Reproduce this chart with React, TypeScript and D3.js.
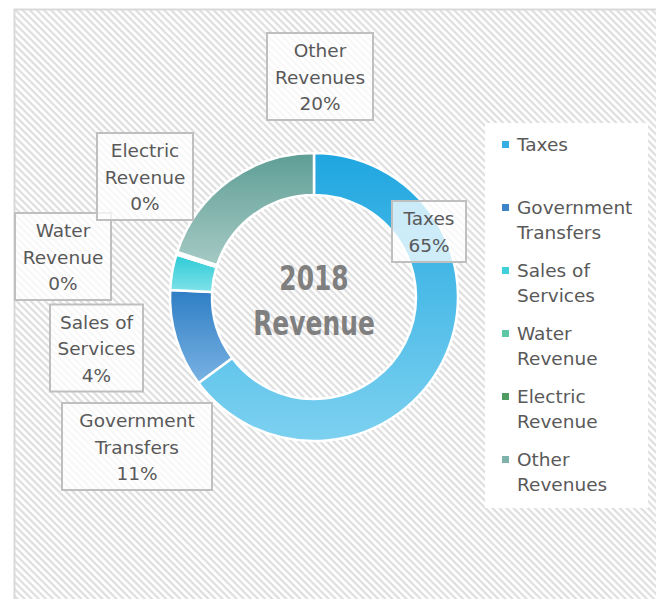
import * as d3 from 'd3';
import React, { useEffect, useRef } from "react";

// chart data
const categories = ['Taxes', 'Government Transfers', 'Sales of Services', 'Water Revenue', 'Electric Revenue', 'Other Revenues'];
const shares = [65, 11, 4, 0.2, 0.1, 20];
const legendLines = [['Taxes'], ['Government', 'Transfers'], ['Sales of', 'Services'], ['Water', 'Revenue'], ['Electric', 'Revenue'], ['Other', 'Revenues']];
const labelLines = [['Taxes'], ['Government', 'Transfers'], ['Sales of', 'Services'], ['Water', 'Revenue'], ['Electric', 'Revenue'], ['Other', 'Revenues']];
const centerTitle = ['2018', 'Revenue'];

// colours: [top, bottom] of each slice gradient, legend marker
const gradTop = ['#1FA6E0', '#2E7EC4', '#2CCBD6', '#4DBF9C', '#3F9657', '#5E9E95'];
const gradBottom = ['#7DD1F0', '#7AB2E3', '#80E2E8', '#8ED9BF', '#7CBF8C', '#A6CAC5'];
const markerColor = ['#35AEE3', '#3D84C8', '#3FD0DB', '#5CC8A6', '#4E9C62', '#80B2AC'];

// hand placed label boxes (centre x, centre y, width)
const labelLayout = [
    { cx: 429, cy: 231.5, w: 74 },
    { cx: 137, cy: 446.5, w: 150 },
    { cx: 96.5, cy: 348, w: 93 },
    { cx: 63, cy: 256.5, w: 96 },
    { cx: 145, cy: 176.5, w: 96 },
    { cx: 320, cy: 76.5, w: 106 },
];

const width = 656;
const height = 599;
const font = '"DejaVu Sans", sans-serif';

const App: React.FC = () => {
    const ref = useRef<SVGSVGElement>(null);

    useEffect(() => {
        if (!ref.current) return;
        const svg = d3.select(ref.current);
        svg.selectAll('*').remove();

        const defs = svg.append('defs');
        const pat = defs.append('pattern')
            .attr('id', 'hatch')
            .attr('patternUnits', 'userSpaceOnUse')
            .attr('width', 5)
            .attr('height', 5)
            .attr('patternTransform', 'rotate(45)');
        pat.append('rect').attr('width', 5).attr('height', 5).attr('fill', '#ffffff');
        pat.append('rect').attr('width', 5).attr('height', 2.2).attr('fill', '#DEDEDE');

        categories.forEach((c, i) => {
            const g = defs.append('linearGradient')
                .attr('id', `grad${i}`)
                .attr('x1', 0).attr('y1', 0).attr('x2', 0).attr('y2', 1);
            g.append('stop').attr('offset', '0%').attr('stop-color', gradTop[i]);
            g.append('stop').attr('offset', '100%').attr('stop-color', gradBottom[i]);
        });

        // chart area
        svg.append('rect')
            .attr('width', width).attr('height', height).attr('fill', '#ffffff');
        svg.append('rect')
            .attr('x', 14.5).attr('y', 9.5)
            .attr('width', 720).attr('height', 720)
            .attr('fill', 'url(#hatch)')
            .attr('stroke', '#D9D9D9')
            .attr('stroke-width', 2);

        const cx = 314, cy = 297;
        const outer = 144, inner = 102;
        const total = d3.sum(shares);
        const pct = d3.format('.0%');

        const pie = d3.pie<number>().value(d => d).sort(null);
        const arc = d3.arc<d3.PieArcDatum<number>>().innerRadius(inner).outerRadius(outer);

        const donut = svg.append('g').attr('transform', `translate(${cx},${cy})`);
        donut.selectAll('path')
            .data(pie(shares))
            .enter()
            .append('path')
            .attr('d', arc)
            .attr('fill', (d, i) => `url(#grad${i})`)
            .attr('stroke', '#ffffff')
            .attr('stroke-width', 2.5)
            .attr('stroke-linejoin', 'round');

        // centre title, squeezed to look like a condensed face
        svg.append('g')
            .attr('transform', `translate(${cx},0) scale(0.84,1)`)
            .selectAll('text')
            .data(centerTitle)
            .enter()
            .append('text')
            .attr('x', 0)
            .attr('y', (d, i) => 290 + i * 45)
            .attr('text-anchor', 'middle')
            .attr('font-family', '"DejaVu Sans Condensed", "DejaVu Sans", sans-serif')
            .attr('font-weight', 'bold')
            .attr('font-size', 33)
            .attr('fill', '#7F7F7F')
            .text(d => d);

        // data labels
        const labels = svg.append('g');
        labelLayout.forEach((p, i) => {
            const lines = [...labelLines[i], pct(shares[i] / total)];
            const h = lines.length === 2 ? 61 : 87;
            labels.append('rect')
                .attr('x', p.cx - p.w / 2)
                .attr('y', p.cy - h / 2)
                .attr('width', p.w)
                .attr('height', h)
                .attr('fill', '#ffffff')
                .attr('fill-opacity', 0.75)
                .attr('stroke', '#BFBFBF')
                .attr('stroke-width', 2);
            lines.forEach((t, j) => {
                labels.append('text')
                    .attr('x', p.cx)
                    .attr('y', p.cy - (lines.length - 1) / 2 * 26.5 + 7 + j * 26.5)
                    .attr('text-anchor', 'middle')
                    .attr('font-family', font)
                    .attr('font-size', 18.5)
                    .attr('fill', '#595959')
                    .text(t);
            });
        });

        // legend
        const legend = svg.append('g');
        legend.append('rect')
            .attr('x', 485).attr('y', 123)
            .attr('width', 163).attr('height', 385)
            .attr('fill', '#ffffff');
        categories.forEach((c, i) => {
            const y = 151 + i * 63;
            legend.append('rect')
                .attr('x', 502).attr('y', y - 10)
                .attr('width', 7).attr('height', 7)
                .attr('fill', markerColor[i]);
            legendLines[i].forEach((t, j) => {
                legend.append('text')
                    .attr('x', 517)
                    .attr('y', y + j * 25)
                    .attr('font-family', font)
                    .attr('font-size', 18.5)
                    .attr('fill', '#595959')
                    .text(t);
            });
        });
    }, []);

    return (
        <svg ref={ref} width={width} height={height}
            style={{ position: 'absolute', left: 0, top: 0 }}></svg>
    );
}

export default App;
